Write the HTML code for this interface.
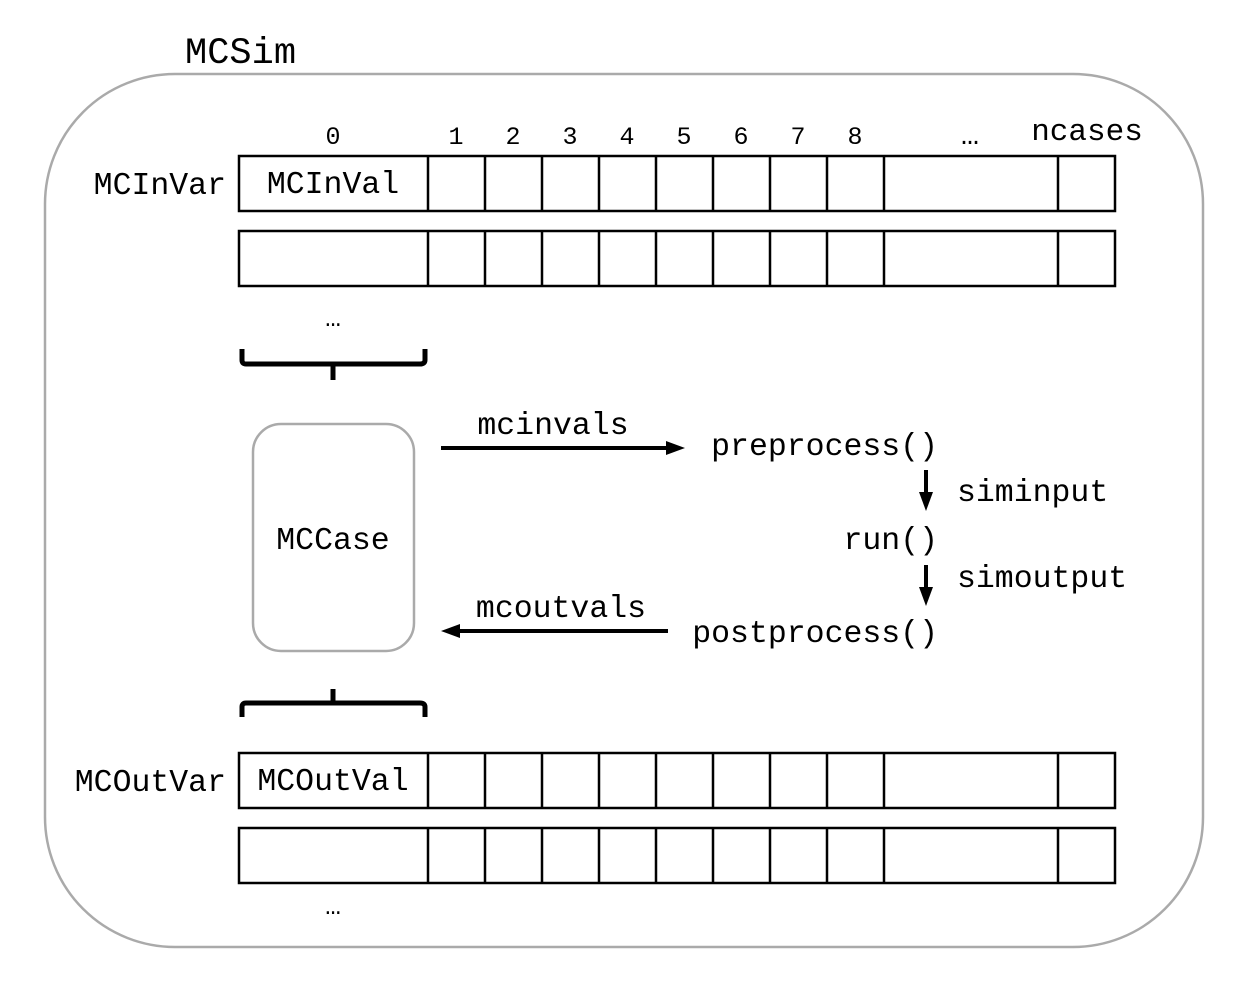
<!DOCTYPE html>
<html><head><meta charset="utf-8"><style>body{margin:0;background:#fff}svg{display:block}</style></head>
<body>
<svg width="1250" height="1000" xmlns="http://www.w3.org/2000/svg" font-family="'Liberation Mono', monospace" font-size="31" fill="#000">
<rect x="45" y="74" width="1158" height="873" rx="130" ry="130" fill="none" stroke="#aaa" stroke-width="2.5"/>
<text x="185" y="63" font-size="37">MCSim</text>
<g fill="none" stroke="#000" stroke-width="2.5">
<rect x="239" y="156" width="876" height="55"/>
<rect x="239" y="231" width="876" height="55"/>
<rect x="239" y="753" width="876" height="55"/>
<rect x="239" y="828" width="876" height="55"/>
<path d="M428 156V211M485 156V211M542 156V211M599 156V211M656 156V211M713 156V211M770 156V211M827 156V211M884 156V211M1058 156V211
M428 231V286M485 231V286M542 231V286M599 231V286M656 231V286M713 231V286M770 231V286M827 231V286M884 231V286M1058 231V286
M428 753V808M485 753V808M542 753V808M599 753V808M656 753V808M713 753V808M770 753V808M827 753V808M884 753V808M1058 753V808
M428 828V883M485 828V883M542 828V883M599 828V883M656 828V883M713 828V883M770 828V883M827 828V883M884 828V883M1058 828V883"/>
</g>
<g text-anchor="middle" font-size="25">
<text x="333" y="144">0</text><text x="456" y="144">1</text><text x="513" y="144">2</text><text x="570" y="144">3</text><text x="627" y="144">4</text><text x="684" y="144">5</text><text x="741" y="144">6</text><text x="798" y="144">7</text><text x="855" y="144">8</text><text x="970" y="144" font-size="30">…</text>
</g>
<text x="1087" y="140" text-anchor="middle" font-size="31">ncases</text>
<text x="226" y="194" text-anchor="end" font-size="31.5">MCInVar</text>
<text x="333" y="193" text-anchor="middle" font-size="31.5">MCInVal</text>
<text x="226" y="791" text-anchor="end" font-size="31.5">MCOutVar</text>
<text x="333" y="790" text-anchor="middle" font-size="31.5">MCOutVal</text>
<text x="333" y="326" text-anchor="middle" font-size="26">…</text>
<text x="333" y="914" text-anchor="middle" font-size="26">…</text>
<g fill="none" stroke="#000" stroke-width="5" stroke-linejoin="round">
<path d="M242 349V360Q242 364 246 364H420Q425 364 425 360V349"/>
<path d="M333 364V380"/>
<path d="M242 717V707Q242 703 246 703H420Q425 703 425 707V717"/>
<path d="M333 703V689"/>
</g>
<rect x="253" y="424" width="161" height="227" rx="28" fill="none" stroke="#aaa" stroke-width="2.5"/>
<text x="333" y="549" text-anchor="middle" font-size="31.5">MCCase</text>
<path d="M441 448H668" stroke="#000" stroke-width="4"/><path d="M685 448L666 441V455Z"/>
<path d="M458 631H668" stroke="#000" stroke-width="4"/><path d="M441 631L460 624V638Z"/>
<path d="M926 470V494" stroke="#000" stroke-width="4"/><path d="M926 511L919 492H933Z"/>
<path d="M926 565V589" stroke="#000" stroke-width="4"/><path d="M926 606L919 587H933Z"/>
<text x="553" y="434" text-anchor="middle" font-size="31.5">mcinvals</text>
<text x="561" y="617" text-anchor="middle" font-size="31.5">mcoutvals</text>
<text x="938" y="455" text-anchor="end" font-size="31.5">preprocess()</text>
<text x="938" y="549" text-anchor="end" font-size="31.5">run()</text>
<text x="938" y="642" text-anchor="end" font-size="31.5">postprocess()</text>
<text x="957" y="501" font-size="31.5">siminput</text>
<text x="957" y="587" font-size="31.5">simoutput</text>
</svg>
</body></html>
